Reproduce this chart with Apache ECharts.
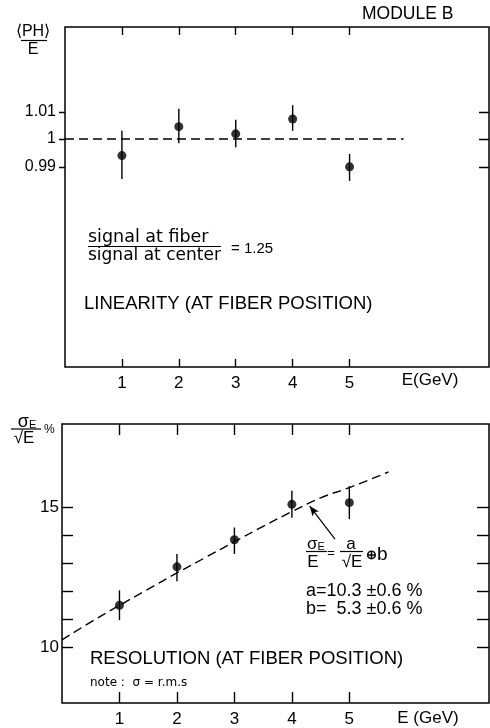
<!DOCTYPE html>
<html>
<head>
<meta charset="utf-8">
<script src="https://cdn.jsdelivr.net/npm/echarts@6/dist/echarts.min.js"></script>
<style>
  html, body { margin: 0; padding: 0; background: #fff; }
  #chart { width: 490px; height: 728px; }
</style>
</head>
<body>
<div id="chart"></div>
<script>
// Beam energies (GeV)
const energies = [1, 2, 3, 4, 5];
const energyTicks = [1, 2, 3, 4, 5];

// Linearity <PH>/E at fiber position
const linValues = [0.994, 1.0045, 1.0019, 1.0073, 0.9899];
const linLow    = [0.9855, 0.9985, 0.997, 1.003, 0.9848];
const linHigh   = [1.003, 1.011, 1.007, 1.0123, 0.9946];
const linTicks  = [0.99, 1, 1.01];
// Reference level for perfect linearity
const linRefE = [0, 5.95];
const linRefV = [1, 1];

// Resolution sigma_E/sqrt(E) in %
const resValues = [11.5, 12.88, 13.85, 15.12, 15.18];
const resLow    = [10.97, 12.36, 13.34, 14.64, 14.59];
const resHigh   = [12.04, 13.34, 14.29, 15.61, 15.77];
const resTicks  = [10, 11, 12, 13, 14, 15];
const resLabels = [10, 15];
// Fitted curve a/sqrt(E) (+) b
const fitE     = [0, 0.5, 1, 1.5, 2, 2.5, 3, 3.5, 4, 4.5, 5, 5.68];
const fitSigma = [10.26, 10.9, 11.5, 12.08, 12.66, 13.22, 13.78, 14.33, 14.86, 15.35, 15.72, 16.28];
// Arrow from the fit formula to the curve
const arrowFrom = [4.75, 13.87];
const arrowTo   = [4.31, 15.06];

const LIN_XMAX = 7.45;
const RES_XMAX = 7.43;
const LIN_YMIN = 0.9172;
const LIN_YMAX = 1.0407;
const LIN_GRID = { left: 65, top: 27, width: 424, height: 340 };

const FONT = "'Liberation Sans', Arial, sans-serif";
const WIDE = "'DejaVu Sans', sans-serif";
const INK = '#000';

function zip(xs, ys) { return xs.map((x, i) => [x, ys[i]]); }

function errorBars(lo, hi) {
  return energies.map((e, i) => [e, lo[i], hi[i]]);
}

function renderErrorBar(params, api) {
  const p1 = api.coord([api.value(0), api.value(1)]);
  const p2 = api.coord([api.value(0), api.value(2)]);
  return {
    type: 'line',
    shape: { x1: p1[0], y1: p1[1], x2: p2[0], y2: p2[1] },
    style: { stroke: INK, lineWidth: 1.4 }
  };
}

const tickLine = { color: INK, width: 1.4 };

function xAxisPair(gridIndex, max, tickLen) {
  const common = {
    type: 'value', gridIndex, min: 0, max,
    axisLine: { show: false, onZero: false }, splitLine: { show: false }
  };
  return [
    Object.assign({}, common, {
      position: 'bottom',
      axisTick: { inside: true, length: tickLen, customValues: energyTicks, lineStyle: tickLine },
      axisLabel: { customValues: energyTicks, margin: 8, color: INK, fontSize: 17, fontFamily: FONT }
    }),
    Object.assign({}, common, {
      position: 'top',
      axisTick: { inside: true, length: tickLen, customValues: energyTicks, lineStyle: tickLine },
      axisLabel: { show: false }
    })
  ];
}

function yAxis(gridIndex, position, min, max, tick, label) {
  return {
    type: 'value', gridIndex, position, min, max,
    axisLine: { show: false, onZero: false }, splitLine: { show: false },
    axisTick: Object.assign({ lineStyle: tickLine }, tick),
    axisLabel: label
  };
}

// Linearity y ticks on the panel frame: short outward tick left, inward tick right
const linTickMarks = [];
linTicks.forEach(v => {
  const y = Math.round(LIN_GRID.top + (LIN_YMAX - v) / (LIN_YMAX - LIN_YMIN) * LIN_GRID.height) + 0.5;
  const xl = LIN_GRID.left;
  const xr = LIN_GRID.left + LIN_GRID.width;
  linTickMarks.push(
    { type: 'line', z: 10, shape: { x1: xl - 6, y1: y, x2: xl, y2: y }, style: { stroke: INK, lineWidth: 1.5 } },
    { type: 'line', z: 10, shape: { x1: xr - 10, y1: y, x2: xr, y2: y }, style: { stroke: INK, lineWidth: 1.5 } }
  );
});

const annotations = [
  // Header
  { type: 'text', x: 362, y: 5, style: { text: 'MODULE B', font: '17.5px ' + FONT, fill: INK } },
  // <PH>/E axis title
  { type: 'text', x: 33, y: 32, style: { text: '⟨PH⟩', font: '16px ' + FONT, fill: INK, textAlign: 'center', textVerticalAlign: 'middle' } },
  { type: 'line', shape: { x1: 21, y1: 40.5, x2: 47, y2: 40.5 }, style: { stroke: INK, lineWidth: 1.2 } },
  { type: 'text', x: 33, y: 50, style: { text: 'E', font: '16px ' + FONT, fill: INK, textAlign: 'center', textVerticalAlign: 'middle' } },
  // Signal ratio
  { type: 'text', x: 88, y: 237, style: { text: 'signal at fiber', font: '17.5px ' + WIDE, fill: INK, textVerticalAlign: 'middle' } },
  { type: 'line', shape: { x1: 88, y1: 246.5, x2: 221, y2: 246.5 }, style: { stroke: INK, lineWidth: 1.2 } },
  { type: 'text', x: 88, y: 256, style: { text: 'signal at center', font: '17px ' + WIDE, fill: INK, textVerticalAlign: 'middle' } },
  { type: 'text', x: 231, y: 249, style: { text: '= 1.25', font: '15px ' + FONT, fill: INK, textVerticalAlign: 'middle' } },
  { type: 'text', x: 84, y: 304, style: { text: 'LINEARITY (AT FIBER POSITION)', font: '18.5px ' + FONT, fill: INK, textVerticalAlign: 'middle' } },
  { type: 'text', x: 430, y: 380, style: { text: 'E(GeV)', font: '17px ' + FONT, fill: INK, textAlign: 'center', textVerticalAlign: 'middle' } },
  // sigma_E/sqrt(E) % axis title
  {
    type: 'text', x: 27, y: 422,
    style: {
      text: '{s|σ}{e|E}', fill: INK, textAlign: 'center', textVerticalAlign: 'middle',
      rich: { s: { font: '18px ' + FONT, fill: INK }, e: { font: '11px ' + FONT, fill: INK, padding: [6, 0, 0, 0] } }
    }
  },
  { type: 'line', shape: { x1: 11, y1: 429, x2: 41, y2: 429 }, style: { stroke: INK, lineWidth: 1.2 } },
  { type: 'text', x: 24, y: 438, style: { text: '√E', font: '17px ' + FONT, fill: INK, textAlign: 'center', textVerticalAlign: 'middle' } },
  { type: 'text', x: 44, y: 430, style: { text: '%', font: '12px ' + FONT, fill: INK, textVerticalAlign: 'middle' } },
  // Fit formula
  {
    type: 'text', x: 316, y: 544,
    style: {
      text: '{s|σ}{e|E}', fill: INK, textAlign: 'center', textVerticalAlign: 'middle',
      rich: { s: { font: '17px ' + FONT, fill: INK }, e: { font: '11px ' + FONT, fill: INK, padding: [5, 0, 0, 0] } }
    }
  },
  { type: 'line', shape: { x1: 306, y1: 551.5, x2: 327, y2: 551.5 }, style: { stroke: INK, lineWidth: 1.2 } },
  { type: 'text', x: 313, y: 562, style: { text: 'E', font: '17px ' + FONT, fill: INK, textAlign: 'center', textVerticalAlign: 'middle' } },
  { type: 'text', x: 331, y: 553, style: { text: '=', font: '13px ' + FONT, fill: INK, textAlign: 'center', textVerticalAlign: 'middle' } },
  { type: 'text', x: 351, y: 544, style: { text: 'a', font: '17px ' + FONT, fill: INK, textAlign: 'center', textVerticalAlign: 'middle' } },
  { type: 'text', x: 366, y: 555, style: { text: '⊕', font: 'bold 13px ' + FONT, fill: INK, textVerticalAlign: 'middle' } },
  { type: 'line', shape: { x1: 340, y1: 551.5, x2: 363, y2: 551.5 }, style: { stroke: INK, lineWidth: 1.2 } },
  { type: 'text', x: 352, y: 562, style: { text: '√E', font: '17px ' + FONT, fill: INK, textAlign: 'center', textVerticalAlign: 'middle' } },
  { type: 'text', x: 377, y: 555, style: { text: 'b', font: '19px ' + FONT, fill: INK, textVerticalAlign: 'middle' } },
  { type: 'text', x: 306, y: 591, style: { text: 'a=10.3 ±0.6 %', font: '18px ' + FONT, fill: INK, textVerticalAlign: 'middle' } },
  { type: 'text', x: 306, y: 609, style: { text: 'b=  5.3 ±0.6 %', font: '18px ' + FONT, fill: INK, textVerticalAlign: 'middle' } },
  { type: 'text', x: 90, y: 659, style: { text: 'RESOLUTION (AT FIBER POSITION)', font: '18.5px ' + FONT, fill: INK, textVerticalAlign: 'middle' } },
  { type: 'text', x: 90, y: 682.5, style: { text: 'note :  σ = r.m.s', font: '12px ' + WIDE, fill: INK, textVerticalAlign: 'middle' } },
  { type: 'text', x: 428, y: 718, style: { text: 'E (GeV)', font: '17px ' + FONT, fill: INK, textAlign: 'center', textVerticalAlign: 'middle' } }
];

const chart = echarts.init(document.getElementById('chart'), null, { renderer: 'canvas' });

const option = {
  backgroundColor: '#fff',
  animation: false,
  grid: [
    Object.assign({ show: true, borderColor: INK, borderWidth: 1.5 }, LIN_GRID),
    { left: 62, top: 424, right: 1, height: 280, show: true, borderColor: INK, borderWidth: 1.5 }
  ],
  xAxis: [].concat(xAxisPair(0, LIN_XMAX, 8), xAxisPair(1, RES_XMAX, 11)),
  yAxis: [
    yAxis(0, 'left', LIN_YMIN, LIN_YMAX,
      { show: false },
      {
        customValues: linTicks, margin: 9, color: INK, fontSize: 16, fontFamily: FONT,
        formatter: v => (Math.abs(v - 1) < 1e-9 ? '1' : v.toFixed(2))
      }),
    yAxis(0, 'right', LIN_YMIN, LIN_YMAX,
      { show: false },
      { show: false }),
    yAxis(1, 'left', 8, 18,
      { inside: true, length: 11, customValues: resTicks },
      { customValues: resLabels, margin: 3, color: INK, fontSize: 17, fontFamily: FONT }),
    yAxis(1, 'right', 8, 18,
      { inside: true, length: 12, customValues: resTicks },
      { show: false })
  ],
  series: [
    // Linearity panel
    {
      type: 'line', xAxisIndex: 0, yAxisIndex: 0, data: zip(linRefE, linRefV),
      showSymbol: false, lineStyle: { color: INK, width: 1.4, type: [9, 5] }
    },
    {
      type: 'custom', xAxisIndex: 0, yAxisIndex: 0,
      data: errorBars(linLow, linHigh), renderItem: renderErrorBar
    },
    {
      type: 'scatter', xAxisIndex: 0, yAxisIndex: 0, data: zip(energies, linValues),
      symbol: 'circle', symbolSize: 9, itemStyle: { color: INK }
    },
    // Resolution panel
    {
      type: 'line', xAxisIndex: 2, yAxisIndex: 2, data: zip(fitE, fitSigma), smooth: true,
      showSymbol: false, lineStyle: { color: INK, width: 1.4, type: [9, 5] },
      markLine: {
        silent: true, animation: false,
        lineStyle: { color: INK, width: 1.2, type: 'solid' },
        label: { show: false },
        data: [[
          { coord: arrowFrom, symbol: 'none' },
          { coord: arrowTo, symbol: 'arrow', symbolSize: [6, 10] }
        ]]
      }
    },
    {
      type: 'custom', xAxisIndex: 2, yAxisIndex: 2,
      data: errorBars(resLow, resHigh), renderItem: renderErrorBar
    },
    {
      type: 'scatter', xAxisIndex: 2, yAxisIndex: 2, data: zip(energies, resValues),
      symbol: 'circle', symbolSize: 9, itemStyle: { color: INK }
    }
  ],
  graphic: annotations.concat(linTickMarks)
};

chart.setOption(option);
</script>
</body>
</html>
